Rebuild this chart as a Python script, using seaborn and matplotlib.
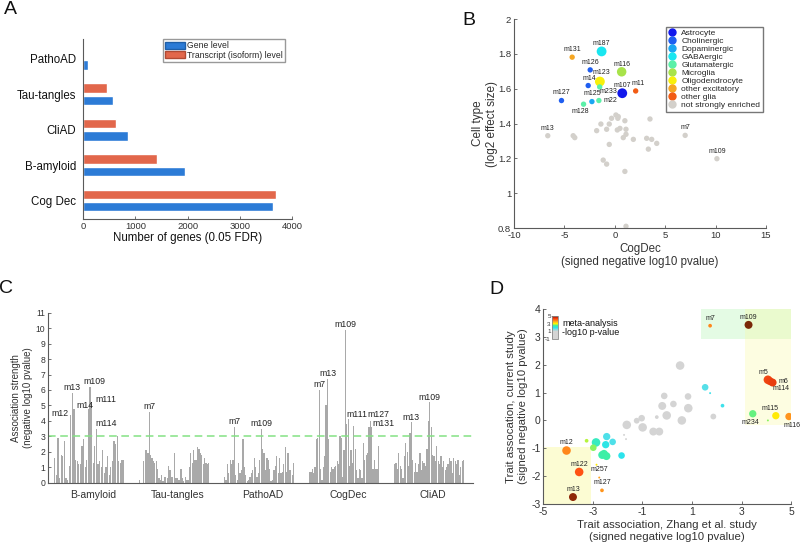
import matplotlib

matplotlib.use("Agg")

import matplotlib.pyplot as plt
import pandas as pd
import seaborn as sns
from matplotlib.cm import ScalarMappable
from matplotlib.colors import LinearSegmentedColormap, Normalize
from matplotlib.lines import Line2D
from matplotlib.patches import Patch, Rectangle

# ---------------- dados ----------------
# Painel A
A_TRAITS = ["PathoAD", "Tau-tangles", "CliAD", "B-amyloid", "Cog Dec"]
A_GENE = [95, 575, 865, 1950, 3630]
A_TRANSCRIPT = [0, 465, 620, 1405, 3685]

# Painel B
B_MODULES = ["m13", "", "", "m7", "m109", "", "", "", "", "", "", "", "", "", "",
             "", "", "", "", "", "", "", "", "", "", "", "", "", "", "",
             "m187", "m131", "m126", "m116", "m123", "m14", "m233", "m107", "m11",
             "m127", "m125", "m22", "m128"]
B_COGDEC = [-6.65, -4.13, -3.97, 6.98, 10.13, -0.32, 0.11, 0.34, 1.0, 3.49, -1.38, -0.55,
            -1.8, -0.81, 0.25, 0.51, 1.11, 1.11, 0.84, 1.84, 3.16, 3.66, 4.16, 3.33, -0.55,
            -1.15, -0.81, 1.0, 1.11, 0.3,
            -1.31, -4.23, -2.44, 0.68, -1.48, -2.64, -1.5, 0.74, 2.07, -5.29, -2.27, -1.58, -3.1]
B_EFFECT = [1.33, 1.33, 1.319, 1.332, 1.198, 1.43, 1.449, 1.44, 1.416, 1.426, 1.397, 1.397,
            1.359, 1.367, 1.363, 1.372, 1.367, 1.338, 1.319, 1.309, 1.315, 1.309, 1.286, 1.253,
            1.28, 1.19, 1.167, 1.125, 0.81, 1.43,
            1.814, 1.781, 1.708, 1.697, 1.641, 1.618, 1.61, 1.574, 1.587, 1.532, 1.526, 1.532, 1.511]
B_CELLTYPE = ["not strongly enriched"] * 30 + [
    "GABAergic", "other excitatory", "Cholinergic", "Microglia", "Oligodendrocyte",
    "Cholinergic", "Glutamatergic", "Astrocyte", "other glia", "Cholinergic",
    "Dopaminergic", "Glutamatergic", "Glutamatergic"]
B_MODSIZE = [1, 1, 1, 1, 1, 1, 1, 1, 1, 1, 1, 1, 1, 1, 1, 1, 1, 1, 1, 1, 1, 1, 1, 1, 1, 1,
             1, 1, 1, 1,
             3, 1, 1, 2.8, 3, 1, 1, 3, 1, 1, 1, 1, 1]
B_TYPES = ["Astrocyte", "Cholinergic", "Dopaminergic", "GABAergic", "Glutamatergic",
           "Microglia", "Oligodendrocyte", "other excitatory", "other glia",
           "not strongly enriched"]
B_COLORS = ["#1218EC", "#1F5EF0", "#1AA6F2", "#19E6F0", "#5AF0A8", "#A8E34A", "#F8F00A",
            "#F5A623", "#F25C14", "#D3D0CB"]

# Painel C
C_GROUPS = ["B-amyloid", "Tau-tangles", "PathoAD", "CogDec", "CliAD"]
C_BAMYLOID = [1.6, 0.5, 2.9, 0.3, 1.8, 1.7, 2.7, 0.3, 0.2, 1.1, 4.4, 5.8, 4.8, 1.5, 1.4, 1.2,
              1.2, 2.4, 2.8, 1.0, 1.5, 4.8, 6.2, 5.1, 1.3, 2.4, 3.5, 1.2, 1.4, 1.0, 2.1, 0.6,
              1.0, 1.7, 0.5, 1.0, 1.4, 2.7, 2.5, 3.0, 1.4, 1.3, 1.5, 1.5]
C_TAU = [0.15, 0.0, 0.0, 1.4, 2.1, 2.1, 1.9, 4.6, 1.8, 1.6, 1.4, 1.3, 1.4, 0.9, 0.3, 0.2,
         0.5, 0.1, 0.4, 0.4, 0.3, 1.1, 0.8, 0.4, 0.4, 1.9, 0.3, 0.3, 0.2, 0.2, 0.9, 0.3, 0.1,
         0.4, 0.2, 0.2, 1.0, 1.9, 1.3, 2.1, 1.5, 1.5, 2.3, 2.2, 1.9, 1.8, 1.2, 1.6, 1.3, 1.2, 1.3]
C_PATHO = [0.4, 0.2, 1.2, 0.6, 1.5, 1.2, 1.5, 3.6, 0.5, 0.2, 1.3, 0.6, 0.8, 2.8, 1.0, 0.5,
           0.1, 0.2, 0.4, 0.6, 0.8, 1.6, 1.0, 0.4, 0.6, 1.5, 3.5, 2.2, 1.9, 0.8, 1.6, 1.5, 0.9,
           0.1, 0.2, 0.8, 1.1, 1.7, 0.6, 1.6, 0.6, 0.7, 1.2, 2.3, 0.7, 1.9, 0.8, 0.8, 0.5, 1.3]
C_COGDEC = [0.7, 0.7, 0.9, 0.6, 1.0, 2.8, 2.9, 6.0, 0.9, 0.2, 1.0, 1.7, 5.0, 6.7, 2.8, 0.7,
            1.0, 0.9, 1.0, 1.1, 1.4, 1.2, 3.0, 2.9, 0.4, 2.1, 9.9, 3.8, 4.1, 1.1, 2.1, 1.3, 3.7,
            2.2, 0.8, 0.3, 0.9, 0.8, 0.3, 2.6, 1.5, 1.8, 1.9, 3.6, 4.0, 3.6, 0.9, 1.5, 0.9, 0.9, 2.4]
C_CLIAD = [1.2, 1.3, 0.9, 1.9, 1.1, 0.9, 0.3, 1.7, 2.6, 2.0, 1.1, 3.2, 3.9, 1.5, 0.7, 1.3,
           0.7, 1.2, 1.9, 0.8, 1.4, 1.3, 1.1, 2.2, 4.0, 5.2, 3.6, 1.8, 1.7, 1.4, 2.4, 1.4, 1.2,
           1.7, 1.0, 1.4, 0.8, 1.0, 1.2, 1.6, 1.4, 0.6, 1.6, 1.4, 1.2, 1.5, 0.5, 1.0, 1.4, 1.5]
C_THRESHOLD = 3
# (grupo, índice da barra, rótulo)
C_PEAKS = [(0, 10, "m12"), (0, 11, "m13"), (0, 12, "m14"), (0, 22, "m109"), (0, 23, "m111"),
           (0, 26, "m114"), (1, 7, "m7"), (2, 7, "m7"), (2, 26, "m109"), (3, 7, "m7"),
           (3, 13, "m13"), (3, 26, "m109"), (3, 28, "m111"), (3, 44, "m127"), (3, 45, "m131"),
           (4, 12, "m13"), (4, 25, "m109")]

# Painel D
D_MODULES = ["", "", "", "", "", "", "", "", "", "", "", "", "", "", "", "", "", "",
             "", "", "", "",
             "", "", "", "", "", "", "", "", "",
             "m7", "m109", "m5", "m6", "m114", "m234", "m115", "m116", "",
             "m12", "m122", "m13", "m257", "", "m127"]
D_ZHANG = [0.52, -0.12, 0.84, -0.20, 0.25, 0.85, -0.02, -0.42, -1.03, -1.23, -1.63, -0.99,
           -0.56, -0.32, 0.59, 1.86, -1.74, -1.66,
           1.53, 1.73, 2.23, -1.84,
           -3.25, -2.98, -2.87, -2.48, -2.44, -2.20, -2.55, -2.45, -2.62,
           1.73, 3.28, 4.06, 4.14, 4.25, 3.45, 4.38, 4.91, 4.06,
           -4.06, -3.55, -3.80, -2.74, -2.85, -2.63]
D_CURRENT = [1.97, 0.88, 0.86, 0.52, 0.59, 0.44, 0.18, 0.12, 0.08, -0.01, -0.16, -0.25,
             -0.40, -0.40, 0.0, 0.14, -0.52, -0.67,
             1.19, 0.98, 0.53, -1.26,
             -0.73, -0.98, -0.79, -0.87, -0.58, -0.77, -1.20, -1.28, -1.24,
             3.40, 3.43, 1.46, 1.41, 1.36, 0.24, 0.17, 0.14, 0.0,
             -1.08, -1.85, -2.75, -2.05, -1.59, -2.51]
D_META = [0.0, 0.0, 0.0, 0.0, 0.0, 0.0, 0.0, 0.0, 0.0, 0.0, 0.0, 0.0, 0.0, 0.0, 0.0, 0.0,
          0.0, 0.0,
          1.75, 1.9, 1.9, 2.0,
          2.8, 2.7, 2.3, 2.05, 1.8, 1.8, 2.45, 2.45, 2.4,
          3.8, 5.6, 4.3, 4.35, 4.4, 2.6, 3.1, 3.7, 2.7,
          3.8, 4.2, 4.9, 3.6, 3.1, 3.7]
D_MODSIZE = [8, 5, 5, 7, 5, 8, 8, 2, 5, 4, 8, 8, 7, 7, 8, 4, 1, 1,
             5, 1, 2, 5,
             2, 5, 8, 6, 6, 5, 7, 7, 7,
             2, 7, 8, 7, 7, 6, 6, 6, 1,
             8, 8, 7, 1, 1, 2]
D_REGIONS = [(1.37, 5.0, 2.91, 4.0, "#A6F5A6", 0.30),
             (3.14, 5.0, -0.16, 4.0, "#FAFA9E", 0.30),
             (-5.0, -3.08, -3.0, -0.96, "#FAFA9E", 0.45)]
D_CMAP_STOPS = [(-1, "#D4D4D4"), (1, "#D4D4D4"), (2, "#2CE3EE"), (2.5, "#3EF0A0"),
                (3, "#FFF700"), (3.6, "#FFA21E"), (4.2, "#FF5214"), (4.6, "#D42A0A"),
                (5, "#7A2808")]

COR_EIXO = "#5A5A5A"
COR_TEXTO = "#333333"

sns.set_style("ticks")
plt.rcParams["font.family"] = ["Liberation Sans", "DejaVu Sans"]
plt.rcParams["axes.unicode_minus"] = False


def estilo(ax, tamanho=6.8):
    sns.despine(ax=ax)
    for lado in ("left", "bottom"):
        ax.spines[lado].set_color(COR_EIXO)
        ax.spines[lado].set_linewidth(0.8)
    ax.tick_params(direction="in", length=2.5, width=0.6, colors=COR_EIXO,
                   labelcolor=COR_TEXTO, labelsize=tamanho, pad=2)


fig = plt.figure(figsize=(8, 5.42), dpi=100)
ax_a = fig.add_axes([0.104, 0.596, 0.261, 0.332])
ax_b = fig.add_axes([0.6425, 0.5793, 0.315, 0.3856])
ax_c = fig.add_axes([0.06, 0.1094, 0.531, 0.3137])
ax_d = fig.add_axes([0.679, 0.0701, 0.31, 0.3598])

# ---------------- A ----------------
GENE_LBL = "Gene level"
TRANS_LBL = "Transcript (isoform) level"
df_a = pd.DataFrame({
    "trait": A_TRAITS + A_TRAITS,
    "level": [GENE_LBL] * len(A_TRAITS) + [TRANS_LBL] * len(A_TRAITS),
    "genes": A_GENE + A_TRANSCRIPT,
})
cores_a = {GENE_LBL: "#2C7BD6", TRANS_LBL: "#E2674B"}
sns.barplot(data=df_a, y="trait", x="genes", hue="level", order=A_TRAITS,
            hue_order=[TRANS_LBL, GENE_LBL], palette=cores_a, orient="h",
            width=0.7, gap=0.25, saturation=1, legend=False, ax=ax_a)
estilo(ax_a)
ax_a.set_xlim(0, 4000)
ax_a.set_xticks(range(0, 4001, 1000))
ax_a.set_ylim(4.52, -0.56)
ax_a.tick_params(axis="y", length=0, labelsize=8.3, labelcolor="#111111", pad=5)
ax_a.set_ylabel("")
ax_a.set_xlabel("Number of genes (0.05 FDR)", fontsize=8.3, color="#111111", labelpad=1)
ax_a.legend(handles=[Patch(facecolor=cores_a[GENE_LBL], edgecolor="#1F5FA8", label=GENE_LBL),
                     Patch(facecolor=cores_a[TRANS_LBL], edgecolor="#B04A33", label=TRANS_LBL)],
            loc="upper right", bbox_to_anchor=(0.967, 1.0), borderaxespad=0, fontsize=6.2,
            handlelength=2.4, handleheight=0.9, handletextpad=0.2, labelspacing=0.05,
            borderpad=0.25, fancybox=False, edgecolor="#999999", framealpha=1)

# ---------------- B ----------------
df_b = pd.DataFrame({"module": B_MODULES, "cogdec": B_COGDEC, "effect": B_EFFECT,
                     "celltype": B_CELLTYPE, "modsize": B_MODSIZE})
paleta_b = dict(zip(B_TYPES, B_COLORS))
sns.scatterplot(data=df_b, x="cogdec", y="effect", hue="celltype", palette=paleta_b,
                size="modsize", sizes=(15, 50), size_norm=(1, 3), linewidth=0,
                legend=False, ax=ax_b)
estilo(ax_b)
ax_b.set_xlim(-10, 15)
ax_b.set_ylim(0.8, 2)
ax_b.set_xticks(range(-10, 16, 5))
ax_b.set_yticks([0.8, 1, 1.2, 1.4, 1.6, 1.8, 2])
ax_b.set_yticklabels(["0.8", "1", "1.2", "1.4", "1.6", "1.8", "2"])
ax_b.set_xlabel("CogDec\n(signed negative log10 pvalue)", fontsize=8.3, color=COR_TEXTO,
                labelpad=2, linespacing=1.2)
ax_b.set_ylabel("Cell type\n(log2 effect size)", fontsize=8.5, color=COR_TEXTO,
                labelpad=0, linespacing=1.2)

desloc_b = {"m233": (6, -3.5, "center", "center"), "m22": (3, 0, "left", "center"),
            "m128": (-2, -3, "center", "top"), "m11": (2, 3, "center", "bottom"),
            "m14": (1, 2.5, "center", "bottom"), "m123": (1, 4, "center", "bottom")}
for _, r in df_b[df_b["module"] != ""].iterrows():
    dx, dy, ha, va = desloc_b.get(r["module"], (0, 3, "center", "bottom"))
    ax_b.annotate(r["module"], (r["cogdec"], r["effect"]), xytext=(dx, dy),
                  textcoords="offset points", ha=ha, va=va, fontsize=5, color="#222222")

ax_b.legend(handles=[Line2D([], [], marker="o", ls="", markersize=5, color=c, label=t)
                     for t, c in zip(B_TYPES, B_COLORS)],
            loc="upper right", bbox_to_anchor=(0.988, 0.962), borderaxespad=0, fontsize=6,
            handlelength=1.0, handletextpad=0.6, labelspacing=0.02, borderpad=0.3,
            fancybox=False, edgecolor="#777777", framealpha=1)

# ---------------- C ----------------
valores_c = [C_BAMYLOID, C_TAU, C_PATHO, C_COGDEC, C_CLIAD]
linhas = []
for g, vals in enumerate(valores_c):
    for i, v in enumerate(vals):
        linhas.append({"pos": g + 0.07 + 0.83 * (i + 0.5) / len(vals), "val": v})
df_c = pd.DataFrame(linhas)
sns.barplot(data=df_c, x="pos", y="val", native_scale=True, color="#A9A9A9", saturation=1,
            width=0.9, errorbar=None, linewidth=0, ax=ax_c)
ax_c.axhline(C_THRESHOLD, color="#84E184", ls=(0, (5, 3)), lw=1.1)
estilo(ax_c, tamanho=6.2)
ax_c.set_xlim(0, 5)
ax_c.set_ylim(0, 11)
ax_c.set_yticks(range(0, 12))
ax_c.set_xticks([g + 0.53 for g in range(len(C_GROUPS))])
ax_c.set_xticklabels(C_GROUPS, fontsize=7.5)
ax_c.tick_params(axis="x", pad=5)
ax_c.set_xlabel("")
ax_c.set_ylabel("Association strength\n(negative log10 pvalue)", fontsize=7,
                color=COR_TEXTO, labelpad=2, linespacing=1.2)

desloc_c = {(0, "m12"): (-1.5, 1, "right", "center"), (0, "m14"): (1.5, 2, "left", "center"),
            (0, "m109"): (3, 0.5, "center", "bottom"), (0, "m111"): (2.5, 3, "left", "center"),
            (0, "m114"): (-1, 0.5, "left", "bottom"), (3, "m111"): (-1, 0.5, "left", "bottom"),
            (3, "m127"): (-2, 1, "left", "bottom"), (3, "m131"): (0.5, -1, "left", "bottom")}
for g, i, nome in C_PEAKS:
    vals = valores_c[g]
    x = g + 0.07 + 0.83 * (i + 0.5) / len(vals)
    dx, dy, ha, va = desloc_c.get((g, nome), (0, 0.5, "center", "bottom"))
    ax_c.annotate(nome, (x, vals[i]), xytext=(dx, dy), textcoords="offset points",
                  ha=ha, va=va, fontsize=6.3, color="#222222")

# ---------------- D ----------------
cmap_d = LinearSegmentedColormap.from_list(
    "meta", [((v + 1) / 6, c) for v, c in D_CMAP_STOPS])
norma_d = Normalize(-1, 5)
for x0, x1, y0, y1, cor, alfa in D_REGIONS:
    ax_d.add_patch(Rectangle((x0, y0), x1 - x0, y1 - y0, facecolor=cor, alpha=alfa,
                             edgecolor="none", zorder=0))
df_d = pd.DataFrame({"module": D_MODULES, "zhang": D_ZHANG, "current": D_CURRENT,
                     "meta": D_META, "modsize": D_MODSIZE}).sort_values("meta", kind="stable")
sns.scatterplot(data=df_d, x="zhang", y="current", hue="meta", palette=cmap_d,
                hue_norm=norma_d, size="modsize", sizes=(2, 38), linewidth=0, legend=False,
                ax=ax_d, zorder=3)
estilo(ax_d, tamanho=7.5)
ax_d.set_xlim(-5, 5)
ax_d.set_ylim(-3, 4)
ax_d.set_xticks(range(-5, 6, 2))
ax_d.set_yticks(range(-3, 5))
ax_d.set_xlabel("Trait association, Zhang et al. study\n(signed negative log10 pvalue)",
                fontsize=8.2, color=COR_TEXTO, labelpad=2, linespacing=1.3)
ax_d.set_ylabel("Trait assocation, current study\n(signed negative log10 pvalue)",
                fontsize=8.2, color=COR_TEXTO, labelpad=2, linespacing=1.3)

desloc_d = {"m5": (-3, 3, "center", "bottom"), "m6": (6, 0, "left", "center"),
            "m114": (0, -2, "left", "top"), "m115": (-4, 3, "center", "bottom"),
            "m234": (-2, -4, "center", "top"), "m116": (2, -4, "center", "top")}
for _, r in df_d[df_d["module"] != ""].iterrows():
    dx, dy, ha, va = desloc_d.get(r["module"], (0, 3, "center", "bottom"))
    ax_d.annotate(r["module"], (r["zhang"], r["current"]), xytext=(dx, dy),
                  textcoords="offset points", ha=ha, va=va, fontsize=5, color="#222222",
                  zorder=4)

cax = ax_d.inset_axes([0.036, 0.846, 0.024, 0.118])
cb = fig.colorbar(ScalarMappable(norm=norma_d, cmap=cmap_d), cax=cax)
cb.set_ticks([5, 3, 1, -1])
cb.outline.set_edgecolor("#888888")
cb.outline.set_linewidth(0.6)
cax.yaxis.set_ticks_position("left")
cax.tick_params(length=0, pad=1, labelsize=4.5, labelcolor=COR_TEXTO)
ax_d.text(0.077, 0.905, "meta-analysis\n-log10 p-value", transform=ax_d.transAxes,
          fontsize=6.5, va="center", ha="left", linespacing=1.0, color="#111111")

# ---------------- letras dos painéis ----------------
for letra, x, y in [("A", 0.013, 0.982), ("B", 0.586, 0.963), ("C", 0.008, 0.467),
                    ("D", 0.621, 0.465)]:
    fig.text(x, y, letra, fontsize=14, ha="center", va="center", color="#111111")

fig.savefig("out.png", dpi=100)
